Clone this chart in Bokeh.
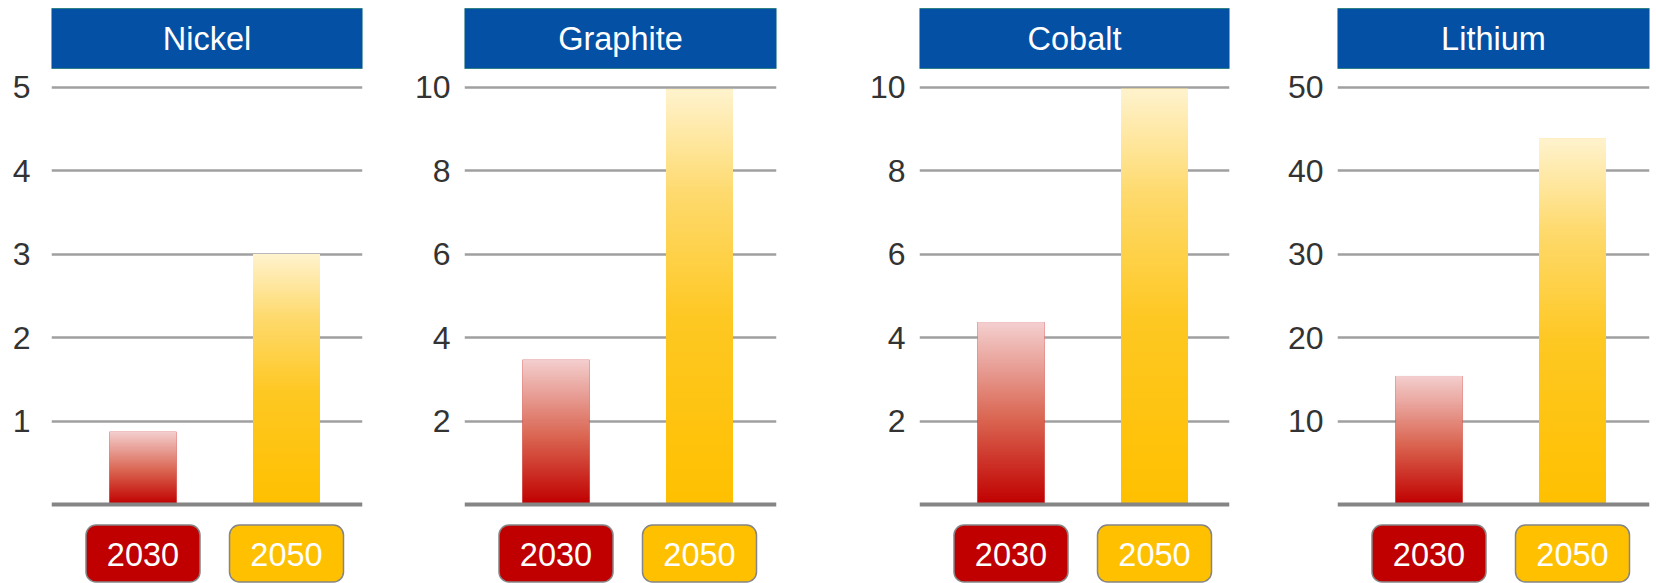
import numpy as np
from bokeh.plotting import figure
from bokeh.layouts import row
from bokeh.models import Range1d, FixedTicker, Span, ColumnDataSource
from bokeh.embed import file_html
from bokeh.resources import INLINE
from bokeh.core.properties import value

# ---------------- data ----------------
MINERALS = ["Nickel", "Graphite", "Cobalt", "Lithium"]
YEARS = ["2030", "2050"]
NICKEL = [0.87, 3.0]
GRAPHITE = [3.47, 9.95]
COBALT = [4.37, 9.96]
LITHIUM = [15.4, 43.8]
SERIES = [NICKEL, GRAPHITE, COBALT, LITHIUM]
Y_MAX = [5, 10, 10, 50]
Y_TICKS = [[1, 2, 3, 4, 5], [2, 4, 6, 8, 10], [2, 4, 6, 8, 10], [10, 20, 30, 40, 50]]

# ---------------- styling / layout ----------------
FONT = "Liberation Sans"
TITLE_BLUE = "#0450A4"
YEAR_COLORS = ["#C00000", "#FFC000"]
# gradient stops (fraction from bottom, rgb)
GRAD = [
    [(0.0, (192, 0, 0)), (0.45, (217, 98, 78)), (1.0, (244, 208, 208))],
    [(0.0, (255, 192, 0)), (0.45, (254, 200, 35)), (0.75, (254, 218, 110)), (1.0, (255, 243, 206))],
]
FIG_W = [385, 455, 430, 386]
BORDER_L = [51, 79, 79, 67]
FRAME_W = [311, 312, 310, 312]
STANDOFF = [21, 14, 14, 14]
H = 583
TOP_GRID_PX = 86.5
BASE_PX = 504
SPACING = 143.5
FIRST_OFF = 91.5
BAR_PX = 67


def gradient_image(stops, n=240):
    fr = np.linspace(0, 1, n)
    xs = [s[0] for s in stops]
    rgb = np.stack([np.interp(fr, xs, [s[1][k] for s in stops]) for k in range(3)], axis=1)
    img = np.empty((n, 1), dtype=np.uint32)
    view = img.view(dtype=np.uint8).reshape((n, 1, 4))
    view[:, 0, 0] = rgb[:, 0].round()
    view[:, 0, 1] = rgb[:, 1].round()
    view[:, 0, 2] = rgb[:, 2].round()
    view[:, 0, 3] = 255
    return img


GRAD_IMGS = [gradient_image(g) for g in GRAD]

figs = []
for i, name in enumerate(MINERALS):
    vals = SERIES[i]
    ymax = Y_MAX[i]
    pxu = (BASE_PX - TOP_GRID_PX) / ymax
    y0 = -(H - BASE_PX) / pxu
    y1 = BASE_PX / pxu
    fw = FRAME_W[i]
    x0 = -FIRST_OFF / SPACING
    x1 = x0 + fw / SPACING
    bw = BAR_PX / SPACING

    p = figure(width=FIG_W[i], height=H, title=None,
               x_range=Range1d(x0, x1), y_range=Range1d(y0, y1),
               output_backend="svg", toolbar_location=None,
               x_axis_location=None,
               min_border_left=BORDER_L[i], min_border_right=FIG_W[i] - BORDER_L[i] - fw,
               min_border_top=0, min_border_bottom=0)
    p.extra_y_ranges = {"px": Range1d(start=H, end=0)}
    p.extra_x_ranges = {"unit": Range1d(0, 1)}
    p.outline_line_color = None
    p.background_fill_color = "white"
    p.border_fill_color = "white"

    pos = list(range(len(YEARS)))
    src = ColumnDataSource(dict(x=pos, year=YEARS, v=vals, color=YEAR_COLORS,
                                left=[q - bw / 2 for q in pos],
                                img=GRAD_IMGS[:len(YEARS)]))

    # bars (solid base + vertical gradient overlay)
    p.vbar(x="x", top="v", bottom=0, width=bw, fill_color="color", line_color=None, source=src)
    p.image_rgba(image="img", x="left", y=0, dw=bw, dh="v", source=src)

    # baseline
    p.add_layout(Span(location=0, dimension="width", line_color="#858585", line_width=4))

    # title box
    p.quad(left=0, right=1, top=8, bottom=68, x_range_name="unit", y_range_name="px",
           fill_color=TITLE_BLUE, line_color="#2F7F86", line_width=1)
    p.text(x=[0.5], y=[38], text=[name], x_range_name="unit", y_range_name="px",
           text_align="center", text_baseline="middle", text_color="white",
           text_font=value(FONT), text_font_size="32.5px")

    # year label boxes
    p.rect(x="x", y=553, width=114, width_units="screen", height=57, y_range_name="px",
           fill_color="color", line_color="#858585", line_width=1.5, border_radius=10, source=src)
    p.text(x="x", y=554, text="year", y_range_name="px", source=src,
           text_align="center", text_baseline="middle", text_color="white",
           text_font=value(FONT), text_font_size="32.5px")

    # axis & grid
    ax = p.yaxis[0]
    ax.ticker = FixedTicker(ticks=Y_TICKS[i])
    ax.axis_line_color = None
    ax.major_tick_line_color = None
    ax.minor_tick_line_color = None
    ax.major_tick_out = 0
    ax.major_tick_in = 0
    ax.major_label_standoff = STANDOFF[i]
    ax.major_label_text_font = FONT
    ax.major_label_text_font_size = "32px"
    ax.major_label_text_color = "#333333"
    p.xgrid.visible = False
    p.ygrid.grid_line_color = "#a0a0a0"
    p.ygrid.grid_line_width = 2.5
    figs.append(p)

layout = row(*figs)
open("out.html", "w").write(file_html(layout, INLINE))
